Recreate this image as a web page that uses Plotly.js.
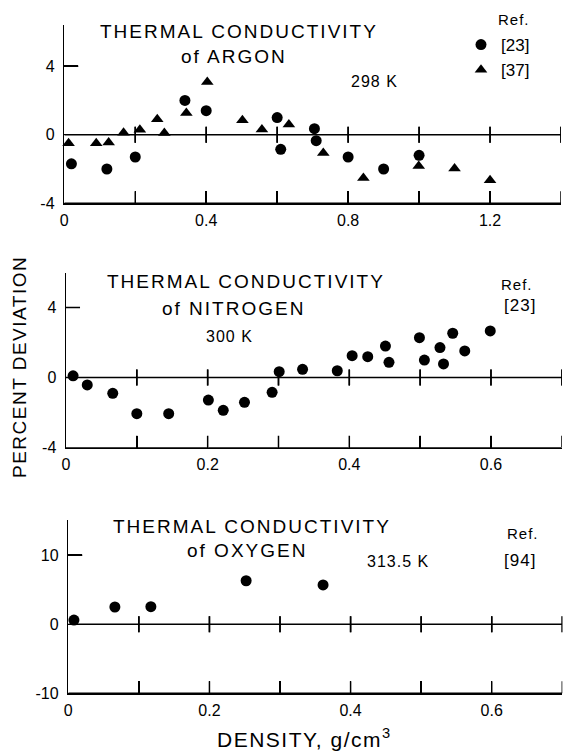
<!DOCTYPE html>
<html><head><meta charset="utf-8">
<script src="https://cdn.plot.ly/plotly-3.0.1.min.js"></script>
<style>html,body{margin:0;padding:0;background:#fff}</style>
</head><body>
<div id="chart" style="width:566px;height:752px"></div>
<script>
// ---- Argon, 298 K ----
const argonX23 = [0.02, 0.12, 0.20, 0.34, 0.40, 0.60, 0.61, 0.705, 0.71, 0.80, 0.90, 1.00];
const argonY23 = [-1.7, -2.0, -1.3, 2.0, 1.4, 1.0, -0.85, 0.35, -0.35, -1.3, -2.0, -1.2];
const argonX37 = [0.012, 0.09, 0.125, 0.167, 0.213, 0.262, 0.282, 0.344, 0.403, 0.502, 0.557, 0.633, 0.73, 0.843, 0.999, 1.10, 1.20];
const argonY37 = [-0.5, -0.5, -0.45, 0.12, 0.29, 0.9, 0.1, 1.27, 3.08, 0.84, 0.3, 0.6, -1.07, -2.52, -1.82, -1.97, -2.65];
// ---- Nitrogen, 300 K ----
const nitroX = [0.01, 0.03, 0.066, 0.10, 0.145, 0.201, 0.222, 0.252, 0.291, 0.301, 0.334, 0.383, 0.404, 0.426, 0.451, 0.456, 0.499, 0.506, 0.528, 0.533, 0.546, 0.563, 0.599];
const nitroY = [0.1, -0.42, -0.9, -2.06, -2.06, -1.28, -1.87, -1.41, -0.84, 0.34, 0.47, 0.39, 1.25, 1.19, 1.8, 0.87, 2.28, 1.0, 1.71, 0.78, 2.53, 1.52, 2.66];
// ---- Oxygen, 313.5 K ----
const oxyX = [0.008, 0.066, 0.117, 0.252, 0.361];
const oxyY = [0.6, 2.5, 2.55, 6.3, 5.7];

// ---- ticks ----
const argonTickVals = [0, 0.2, 0.4, 0.6, 0.8, 1.0, 1.2, 1.4];
const argonTickText = ['0', '', '0.4', '', '0.8', '', '1.2', ''];
const lowTickVals = [0, 0.1, 0.2, 0.3, 0.4, 0.5, 0.6, 0.7];
const lowTickText = ['0', '', '0.2', '', '0.4', '', '0.6', ''];
const devTickVals = [-4, 0, 4];
const devTickText = ['-4', '0', '4'];
const oxyTickVals = [-10, 0, 10];
const oxyTickText = ['-10', '0', '10'];

const FONT = 'Liberation Sans, Arial, sans-serif';
const W = 566, H = 752;
const px = v => v / W, py = v => 1 - v / H;

function pts(xs, ys, xa, ya, name, symbol, legend) {
  return {x: xs, y: ys, xaxis: xa, yaxis: ya, type: 'scatter', mode: 'markers', name: name,
    showlegend: legend, cliponaxis: false, hoverinfo: 'skip',
    marker: {symbol: symbol, size: 11, color: '#000', line: {width: 0}}};
}
function lineTrace(xs, ys, xa, ya) {
  return {x: xs, y: ys, xaxis: xa, yaxis: ya, type: 'scatter', mode: 'lines', showlegend: false,
    cliponaxis: false, hoverinfo: 'skip', line: {color: '#000', width: 1.5, simplify: false}};
}
// tick marks crossing the zero line (one polyline along the zero line, at the tick values)
function zeroComb(vals, half, xa, ya) {
  const xs = [vals[0]], ys = [0];
  vals.slice(1).forEach(v => { xs.push(v, v, v, v); ys.push(0, half, -half, 0); });
  return lineTrace(xs, ys, xa, ya);
}
// inward tick marks on the bottom axis
function bottomComb(vals, base, len, xa, ya) {
  const xs = [vals[0]], ys = [base];
  vals.slice(1).forEach(v => { xs.push(v, v, v); ys.push(base, base + len, base); });
  return lineTrace(xs, ys, xa, ya);
}
// inward tick marks on the left axis (positive labelled ticks)
function leftComb(vals, len, xa, ya) {
  const xs = [], ys = [];
  vals.filter(v => v > 0).forEach(v => { xs.push(0, len, null); ys.push(v, v, null); });
  return lineTrace(xs, ys, xa, ya);
}

const data = [
  zeroComb(argonTickVals, 0.467, 'x', 'y'),
  bottomComb(argonTickVals, -4, 0.70, 'x', 'y'),
  leftComb(devTickVals, 0.0394, 'x', 'y'),
  zeroComb(lowTickVals, 0.456, 'x2', 'y2'),
  bottomComb(lowTickVals, -4, 0.685, 'x2', 'y2'),
  leftComb(devTickVals, 0.0198, 'x2', 'y2'),
  zeroComb(lowTickVals, 1.159, 'x3', 'y3'),
  bottomComb(lowTickVals, -10, 1.74, 'x3', 'y3'),
  leftComb(oxyTickVals, 0.0198, 'x3', 'y3'),
  pts(argonX23, argonY23, 'x', 'y', '[23]', 'circle', true),
  pts(argonX37, argonY37, 'x', 'y', '[37]', 'triangle-up', true),
  pts(nitroX, nitroY, 'x2', 'y2', 'N2 [23]', 'circle', false),
  pts(oxyX, oxyY, 'x3', 'y3', 'O2 [94]', 'circle', false)
];

function zeroTickShapes(vals, xr, yr) {
  return vals.slice(1).map(v => ({type: 'line', xref: xr, yref: yr, ysizemode: 'pixel', yanchor: 0,
    x0: v, x1: v, y0: -8, y1: 8, line: {color: '#000', width: 1.5}, layer: 'above'}));
}
const shapes = [].concat(
  zeroTickShapes(argonTickVals, 'x', 'y'),
  zeroTickShapes(lowTickVals, 'x2', 'y2'),
  zeroTickShapes(lowTickVals, 'x3', 'y3')
);

const tf = () => ({family: FONT, size: 16, color: '#000'});
function xAx(dom, range, vals, text, anchor) {
  return {domain: dom, range: range, anchor: anchor, showline: true, linecolor: '#000', linewidth: 1.5,
    ticks: 'inside', ticklen: 12, tickwidth: 1.5, tickcolor: '#000', showgrid: false, zeroline: false,
    tickmode: 'array', tickvals: vals, ticktext: text, tickfont: tf(), ticklabelstandoff: 2};
}
function yAx(dom, range, vals, text, anchor) {
  return {domain: dom, range: range, anchor: anchor, showline: true, linecolor: '#000', linewidth: 1.5,
    ticks: 'inside', ticklen: 14, tickwidth: 1.5, tickcolor: '#000', showgrid: false,
    zeroline: true, zerolinecolor: '#000', zerolinewidth: 1.5,
    tickmode: 'array', tickvals: vals, ticktext: text, tickfont: tf(), ticklabelstandoff: 5};
}

function ann(text, x, y, size, sp, extra) {
  const a = {text: '<span style="letter-spacing:' + sp + 'px">' + text + '</span>',
    x: px(x), y: py(y), xref: 'paper', yref: 'paper', showarrow: false,
    xanchor: 'center', yanchor: 'middle', font: {family: FONT, size: size, color: '#000'}};
  return Object.assign(a, extra || {});
}

const annotations = [
  ann('THERMAL CONDUCTIVITY', 239, 31.7, 19, 2),
  ann('of ARGON', 233.6, 56.7, 19, 2),
  ann('298 K', 374, 81.7, 16, 1),
  ann('Ref.', 514, 20, 15, 1),
  ann('THERMAL CONDUCTIVITY', 245.7, 281.7, 19, 2),
  ann('of NITROGEN', 233, 309, 19, 2),
  ann('300 K', 229.4, 336, 16, 1),
  ann('Ref.', 517.4, 284, 15, 1),
  ann('[23]', 520, 305, 17, 1),
  ann('THERMAL CONDUCTIVITY', 251.5, 526.7, 19, 2),
  ann('of OXYGEN', 247, 550, 19, 2),
  ann('313.5 K', 397.7, 561.7, 16, 1),
  ann('Ref.', 522.8, 533.3, 15, 1),
  ann('[94]', 519.6, 560, 17, 1),
  ann('DENSITY, g/cm<sup>3</sup>', 304.8, 738, 21, 1.5),
  ann('PERCENT DEVIATION', 20, 367, 19, 1.5, {textangle: -90})
];

const layout = {
  width: W, height: H, margin: {l: 0, r: 0, t: 0, b: 0},
  paper_bgcolor: '#fff', plot_bgcolor: 'rgba(0,0,0,0)',
  font: {family: FONT, color: '#000'},
  xaxis: xAx([px(64.3), px(561)], [0, 1.4], argonTickVals, argonTickText, 'y'),
  yaxis: yAx([py(203.3), py(25)], [-4, 6.4], devTickVals, devTickText, 'x'),
  xaxis2: xAx([px(66), px(561.8)], [0, 0.7], lowTickVals, lowTickText, 'y2'),
  yaxis2: yAx([py(447.7), py(273.3)], [-4, 5.95], devTickVals, devTickText, 'x2'),
  xaxis3: xAx([px(68.3), px(562.3)], [0, 0.7], lowTickVals, lowTickText, 'y3'),
  yaxis3: yAx([py(693.3), py(520)], [-10, 15.1], oxyTickVals, oxyTickText, 'x3'),
  showlegend: true,
  legend: {x: px(461), y: py(27), xanchor: 'left', yanchor: 'top', bgcolor: 'rgba(0,0,0,0)',
    borderwidth: 0, font: {family: FONT, size: 17, color: '#000'}},
  shapes: shapes,
  annotations: annotations
};

Plotly.newPlot('chart', data, layout, {staticPlot: true});
</script>
</body></html>
